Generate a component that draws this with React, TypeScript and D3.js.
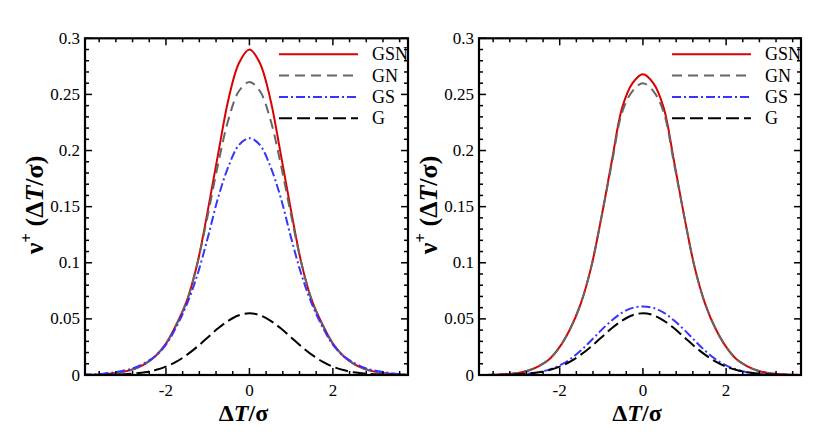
import React from 'react'
import * as d3 from 'd3'

// x positions of the sampled points (ΔT/σ)
const xs = [-4, -3.75, -3.5, -3.25, -3, -2.75, -2.5, -2.25, -2, -1.75, -1.5, -1.25, -1, -0.75, -0.5, -0.25, 0,
  0.25, 0.5, 0.75, 1, 1.25, 1.5, 1.75, 2, 2.25, 2.5, 2.75, 3, 3.25, 3.5, 3.75, 4]

// left panel
const leftGSN = [0.0001, 0.0003, 0.0007, 0.0015, 0.003, 0.0056, 0.010, 0.017, 0.028, 0.045, 0.066, 0.099, 0.146, 0.197, 0.246, 0.278, 0.290,
  0.278, 0.246, 0.197, 0.146, 0.099, 0.066, 0.045, 0.028, 0.017, 0.010, 0.0056, 0.003, 0.0015, 0.0007, 0.0003, 0.0001]
const leftGN = [0.0001, 0.0003, 0.0007, 0.0015, 0.003, 0.0056, 0.010, 0.017, 0.028, 0.045, 0.066, 0.099, 0.142, 0.188, 0.228, 0.253, 0.261,
  0.253, 0.228, 0.188, 0.142, 0.099, 0.066, 0.045, 0.028, 0.017, 0.010, 0.0056, 0.003, 0.0015, 0.0007, 0.0003, 0.0001]
const leftGS = [0.0003, 0.0006, 0.0012, 0.0024, 0.004, 0.0065, 0.011, 0.017, 0.027, 0.043, 0.063, 0.089, 0.122, 0.158, 0.186, 0.205, 0.211,
  0.205, 0.186, 0.158, 0.122, 0.089, 0.063, 0.043, 0.027, 0.017, 0.011, 0.0065, 0.004, 0.0024, 0.0012, 0.0006, 0.0003]
const leftG = [0, 0, 0.0001, 0.0003, 0.0006, 0.0013, 0.0024, 0.0044, 0.0074, 0.0119, 0.0179, 0.0252, 0.0334, 0.0416, 0.0485, 0.0533, 0.055,
  0.0533, 0.0485, 0.0416, 0.0334, 0.0252, 0.0179, 0.0119, 0.0074, 0.0044, 0.0024, 0.0013, 0.0006, 0.0003, 0.0001, 0, 0]

// right panel
const rightGSN = [0, 0.0001, 0.0003, 0.0008, 0.0018, 0.004, 0.008, 0.014, 0.025, 0.041, 0.063, 0.095, 0.140, 0.190, 0.238, 0.260, 0.268,
  0.260, 0.238, 0.190, 0.140, 0.095, 0.063, 0.041, 0.025, 0.014, 0.008, 0.004, 0.0018, 0.0008, 0.0003, 0.0001, 0]
const rightGN = [0, 0.0001, 0.0003, 0.0008, 0.0018, 0.004, 0.008, 0.014, 0.025, 0.041, 0.063, 0.095, 0.140, 0.188, 0.234, 0.253, 0.260,
  0.253, 0.234, 0.188, 0.140, 0.095, 0.063, 0.041, 0.025, 0.014, 0.008, 0.004, 0.0018, 0.0008, 0.0003, 0.0001, 0]
const rightGS = [0, 0, 0.0001, 0.0002, 0.0005, 0.0012, 0.0025, 0.0048, 0.0085, 0.0140, 0.0215, 0.0305, 0.0400, 0.0485, 0.0555, 0.0598, 0.061,
  0.0598, 0.0555, 0.0485, 0.0400, 0.0305, 0.0215, 0.0140, 0.0085, 0.0048, 0.0025, 0.0012, 0.0005, 0.0002, 0.0001, 0, 0]
const rightG = [0, 0, 0.0001, 0.0003, 0.0006, 0.0013, 0.0024, 0.0044, 0.0074, 0.0119, 0.0179, 0.0252, 0.0334, 0.0416, 0.0485, 0.0533, 0.055,
  0.0533, 0.0485, 0.0416, 0.0334, 0.0252, 0.0179, 0.0119, 0.0074, 0.0044, 0.0024, 0.0013, 0.0006, 0.0003, 0.0001, 0, 0]

const seriesNames = ['GSN', 'GN', 'GS', 'G']
const xTickValues = [-2, 0, 2]
const xTickLabels = ['-2', '0', '2']
const yTickValues = [0, 0.05, 0.1, 0.15, 0.2, 0.25, 0.3]
const yTickLabels = ['0', '0.05', '0.1', '0.15', '0.2', '0.25', '0.3']

const styles = [
  { color: '#dd0000', dash: null },
  { color: '#666666', dash: '10,6' },
  { color: '#3535ff', dash: '9,3,2,3' },
  { color: '#000000', dash: '13,5' },
]

const FONT = '"Liberation Serif", "Times New Roman", serif'
const top = 38.3, bottom = 375

function Panel({ x0, x1, series, id }) {
  const x = d3.scaleLinear().domain([-3.94, 3.8]).range([x0, x1])
  const y = d3.scaleLinear().domain([0, 0.3]).range([bottom, top])
  const line = d3.line().x(d => x(d[0])).y(d => y(d[1])).curve(d3.curveCatmullRom)
  const xMinor = d3.range(-3.6, 3.61, 0.4).map(v => Math.round(v * 10) / 10)
  const yMinor = d3.range(0, 0.3001, 0.01).map(v => Math.round(v * 100) / 100)
  const labelX = x0 - 42
  const labelY = 205

  return (
    <g>
      <defs>
        <clipPath id={id}><rect x={x0} y={top} width={x1 - x0} height={bottom - top} /></clipPath>
      </defs>
      <g clipPath={`url(#${id})`}>
        {series.map((s, i) => (
          <path key={i} d={line(xs.map((v, j) => [v, s[j]]))} fill="none"
            stroke={styles[i].color} strokeWidth={2} strokeDasharray={styles[i].dash || undefined} />
        ))}
      </g>
      {/* ticks, all four sides pointing inward */}
      <g stroke="#000" strokeWidth={1.5}>
        {xMinor.map((v, i) => {
          const major = xTickValues.includes(v)
          const len = major ? 7 : 4
          return (
            <g key={i}>
              <line x1={x(v)} x2={x(v)} y1={bottom} y2={bottom - len} />
              <line x1={x(v)} x2={x(v)} y1={top} y2={top + len} />
            </g>
          )
        })}
        {yMinor.map((v, i) => {
          const major = Math.abs(Math.round(v * 20) - v * 20) < 1e-6
          const len = major ? 7 : 4
          return (
            <g key={i}>
              <line x1={x0} x2={x0 + len} y1={y(v)} y2={y(v)} />
              <line x1={x1} x2={x1 - len} y1={y(v)} y2={y(v)} />
            </g>
          )
        })}
      </g>
      <rect x={x0} y={top} width={x1 - x0} height={bottom - top} fill="none" stroke="#000" strokeWidth={2.2} />
      {yTickValues.map((v, i) => (
        <text key={i} x={x0 - 5} y={y(v)} dy="0.33em" textAnchor="end" fontSize={17} fontFamily={FONT}>{yTickLabels[i]}</text>
      ))}
      {xTickValues.map((v, i) => (
        <text key={i} x={x(v)} y={396} textAnchor="middle" fontSize={17} fontFamily={FONT}>{xTickLabels[i]}</text>
      ))}
      <text x={(x0 + x1) / 2 - 3} y={421} textAnchor="middle" fontSize={24} fontWeight="bold" fontFamily={FONT}>
        Δ<tspan fontStyle="italic">T</tspan>/σ
      </text>
      <text transform={`translate(${labelX},${labelY}) rotate(-90)`} textAnchor="middle" fontSize={26} fontWeight="bold" fontFamily={FONT}>
        ν<tspan fontSize={17} dy={-11}>+</tspan><tspan dy={11}> (Δ</tspan><tspan fontStyle="italic">T</tspan>/σ)
      </text>
      {/* legend */}
      {seriesNames.map((name, i) => {
        const ly = 54.3 + i * 21.3
        return (
          <g key={name}>
            <line x1={x1 - 129} x2={x1 - 50} y1={ly} y2={ly} stroke={styles[i].color} strokeWidth={2}
              strokeDasharray={styles[i].dash || undefined} />
            <text x={x1 - 36} y={ly + 6} fontSize={18} fontFamily={FONT}>{name}</text>
          </g>
        )
      })}
    </g>
  )
}

export default function App() {
  return (
    <svg width={830} height={444} style={{ position: 'absolute', left: 0, top: 0, background: '#fff' }}>
      <rect width={830} height={444} fill="#fff" />
      <Panel id="clipL" x0={85} x1={408} series={[leftGSN, leftGN, leftGS, leftG]} />
      <Panel id="clipR" x0={479} x1={801} series={[rightGSN, rightGN, rightGS, rightG]} />
    </svg>
  )
}
